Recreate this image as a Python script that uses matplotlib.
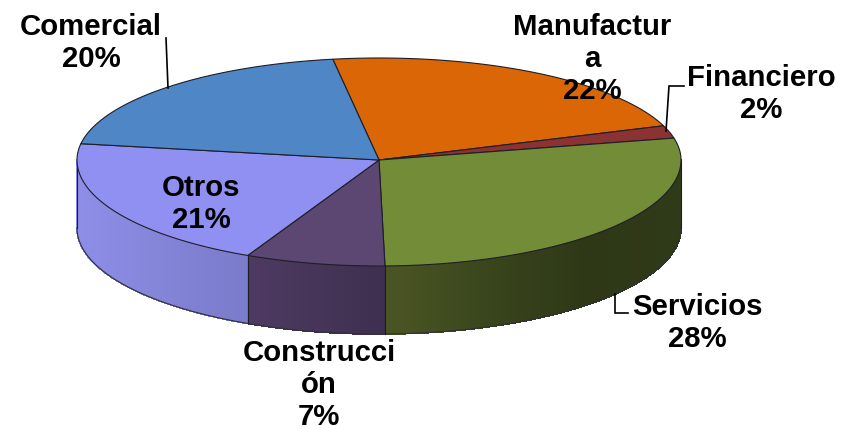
import matplotlib
matplotlib.use("Agg")
import matplotlib.pyplot as plt
import numpy as np
from matplotlib.collections import PolyCollection
from matplotlib.colors import to_rgb

# pie data, clockwise from the first slice
sectors = ["Manufactura", "Financiero", "Servicios", "Construcción", "Otros", "Comercial"]
shares = [22, 2, 28.13, 7.47, 20.4, 20]
top_colors = ["#DB6606", "#8B3232", "#728C38", "#5C4672", "#9090F2", "#4F86C6"]
# wall gradient, left to right as seen on screen
wall_colors = {
    "Servicios": ["#4C5624", "#3A461D", "#2E3817", "#2F3A18"],
    "Construcción": ["#4E3A62", "#463558", "#3D2F50"],
    "Otros": ["#8E8EE8", "#8484D8", "#7B7BCB"],
}
labels = {
    "Manufactura": "Manufactur\na\n22%",
    "Financiero": "Financiero\n2%",
    "Servicios": "Servicios\n28%",
    "Construcción": "Construcci\nón\n7%",
    "Otros": "Otros\n21%",
    "Comercial": "Comercial\n20%",
}

# layout in pixels of the reference
CX, CY, RX, RY_BACK, RY_FRONT, DEPTH = 379, 160, 302, 102, 106, 68
START = -8.8
label_pos = {
    "Manufactura": (592, 59),
    "Financiero": (761, 94),
    "Servicios": (697, 323),
    "Construcción": (319, 385),
    "Otros": (201, 204),
    "Comercial": (91, 43),
}
leaders = [
    ([166, 168], [38, 88]),
    ([684, 669, 666], [86, 86, 131]),
    ([615, 615, 628], [294, 313, 313]),
]
EDGE = "#1E1E28"


def rim(theta):
    t = np.radians(theta)
    c = np.cos(t)
    return CX + RX * np.sin(t), CY - np.where(c > 0, RY_BACK, RY_FRONT) * c


fig = plt.figure(figsize=(8.41, 4.29), dpi=100)
ax = fig.add_axes([0, 0, 1, 1])
ax.set_xlim(0, 841)
ax.set_ylim(429, 0)
ax.axis("off")

bounds = START + np.cumsum([0] + shares) * 3.6

# side walls, only the part facing the viewer
for name, a0, a1 in zip(sectors, bounds[:-1], bounds[1:]):
    if name not in wall_colors:
        continue
    lo = max(a0, 90)
    hi = min(a1, 270)
    th = np.linspace(lo, hi, 200)
    x, y = rim(th)
    quads = [
        [(x[i], y[i]), (x[i + 1], y[i + 1]), (x[i + 1], y[i + 1] + DEPTH), (x[i], y[i] + DEPTH)]
        for i in range(len(th) - 1)
    ]
    stops = np.array([to_rgb(c) for c in wall_colors[name]])
    pos = np.linspace(0, 1, len(stops))
    frac = (x[:-1] - x.min()) / (x.max() - x.min())
    cols = np.column_stack([np.interp(frac, pos, stops[:, k]) for k in range(3)])
    ax.add_collection(PolyCollection(quads, facecolors=cols, edgecolors=cols, linewidths=0.6,
                                     antialiaseds=False, zorder=1))
    ax.plot(x, y + DEPTH, color="#30303A", lw=0.8, zorder=2)
    ax.plot([x[-1], x[-1]], [y[-1], y[-1] + DEPTH], color=EDGE, lw=0.8, zorder=2)
    ax.plot([x[0], x[0]], [y[0], y[0] + DEPTH], color=EDGE, lw=0.8, zorder=2)

# top face
for name, color, a0, a1 in zip(sectors, top_colors, bounds[:-1], bounds[1:]):
    x, y = rim(np.linspace(a0, a1, 200))
    ax.fill(np.r_[CX, x], np.r_[CY, y], facecolor=color, edgecolor=EDGE, lw=0.8,
            joinstyle="round", zorder=3)

for xs, ys in leaders:
    ax.plot(xs, ys, color="black", lw=1.2, zorder=4, solid_joinstyle="miter")

for name, (lx, ly) in label_pos.items():
    ax.text(lx, ly, labels[name], ha="center", va="center", family="Liberation Sans",
            fontweight="bold", fontsize=21.2, linespacing=1.16, color="black", zorder=5)

fig.savefig("out.png", dpi=100)
plt.close(fig)
